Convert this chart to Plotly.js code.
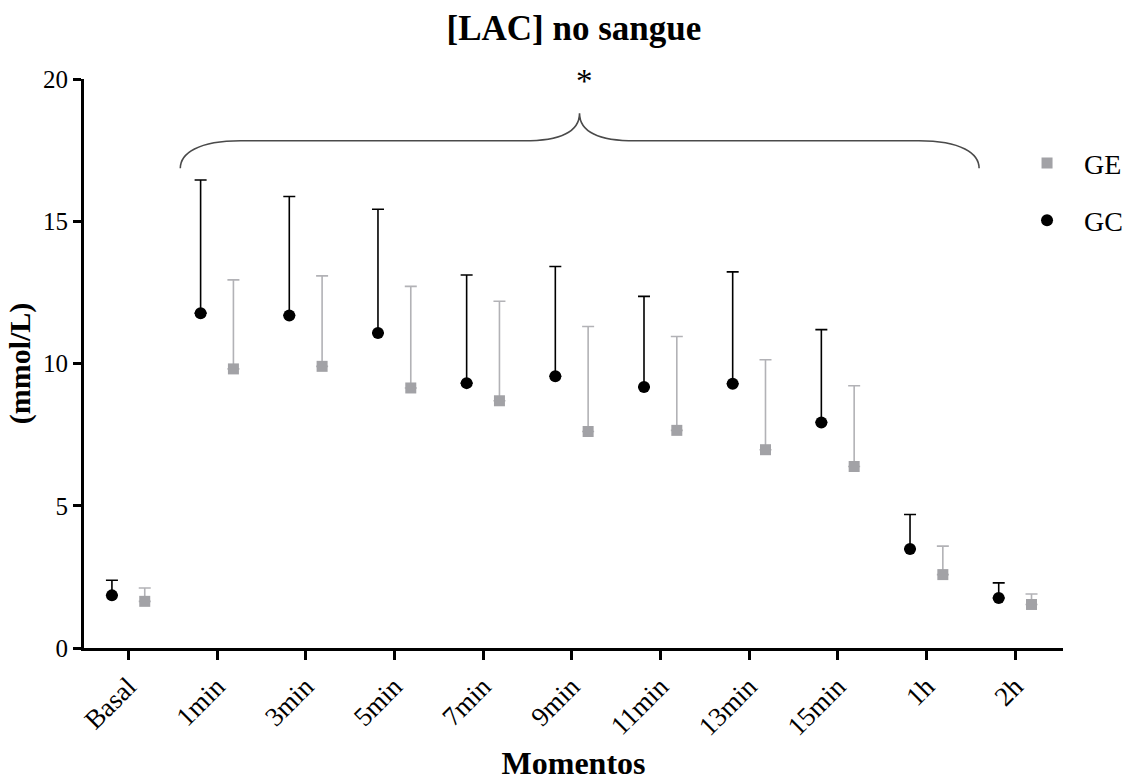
<!DOCTYPE html>
<html>
<head>
<meta charset="utf-8">
<script src="https://cdn.plot.ly/plotly-3.0.1.min.js"></script>
<style>html,body{margin:0;padding:0;background:#fff;}#chart{width:1141px;height:781px;}</style>
</head>
<body>
<div id="chart"></div>
<script>
// Data
var categories = ["Basal", "1min", "3min", "5min", "7min", "9min", "11min", "13min", "15min", "1h", "2h"];
var gcMean = [1.85, 11.77, 11.69, 11.07, 9.31, 9.55, 9.17, 9.29, 7.93, 3.48, 1.76];
var gcUpper = [2.38, 16.45, 15.87, 15.42, 13.11, 13.41, 12.36, 13.22, 11.19, 4.69, 2.29];
var geMean = [1.64, 9.81, 9.90, 9.14, 8.69, 7.61, 7.65, 6.97, 6.38, 2.58, 1.53];
var geUpper = [2.11, 12.94, 13.08, 12.71, 12.19, 11.30, 10.95, 10.13, 9.22, 3.58, 1.90];
var yTicks = [0, 5, 10, 15, 20];

var idx = categories.map(function (c, i) { return i; });
var off = 0.185;
function diff(u, m) { return u.map(function (v, i) { return +(v - m[i]).toFixed(3); }); }

var serif = "'Liberation Serif', 'Times New Roman', serif";

var traceGE = {
  type: "scatter", mode: "markers", name: "GE", legendgroup: "ge",
  x: idx.map(function (i) { return i + off; }), y: geMean,
  marker: { symbol: "square", size: 11, color: "#a2a2a6" },
  error_y: { type: "data", symmetric: false, array: diff(geUpper, geMean), arrayminus: geMean.map(function () { return 0; }),
             color: "#b2b2b6", thickness: 1.6, width: 6 },
  hoverinfo: "y"
};
var traceGC = {
  type: "scatter", mode: "markers", name: "GC", legendgroup: "gc",
  x: idx.map(function (i) { return i - off; }), y: gcMean,
  marker: { symbol: "circle", size: 12, color: "#000000" },
  error_y: { type: "data", symmetric: false, array: diff(gcUpper, gcMean), arrayminus: gcMean.map(function () { return 0; }),
             color: "#000000", thickness: 1.6, width: 6 },
  hoverinfo: "y"
};

// significance brace (annotation decoration)
var bl = 0.586, br = 9.594, bm = 5.088, yf = 17.83, ye = 16.86, yt = 18.80;
var bracePath = "M " + bl + "," + ye +
  " C " + bl + "," + (yf - 0.45) + " " + (bl + 0.2) + "," + yf + " " + (bl + 0.68) + "," + yf +
  " L " + (bm - 0.63) + "," + yf +
  " C " + (bm - 0.2) + "," + yf + " " + bm + "," + (yf + 0.35) + " " + bm + "," + yt +
  " C " + bm + "," + (yf + 0.35) + " " + (bm + 0.2) + "," + yf + " " + (bm + 0.63) + "," + yf +
  " L " + (br - 0.68) + "," + yf +
  " C " + (br - 0.2) + "," + yf + " " + br + "," + (yf - 0.45) + " " + br + "," + ye;

var layout = {
  width: 1141, height: 781,
  paper_bgcolor: "#ffffff", plot_bgcolor: "#ffffff",
  margin: { l: 84, r: 78, t: 79, b: 132.5 },
  font: { family: serif, color: "#000000", size: 25 },
  title: { text: "<b>[LAC] no sangue</b>", font: { family: serif, size: 35, color: "#000" },
           x: 0.503, xanchor: "center", y: 0.965, yref: "container", yanchor: "middle" },
  showlegend: true,
  legend: { x: 0.9459, y: 0.896, xanchor: "left", yanchor: "top", bgcolor: "rgba(0,0,0,0)",
            font: { family: serif, size: 28, color: "#000" }, tracegroupgap: 18, traceorder: "grouped", itemwidth: 64 },
  xaxis: {
    range: [-0.5, 10.54], tickmode: "array", tickvals: idx, ticktext: categories,
    tickangle: -45, showgrid: false, zeroline: false,
    showline: true, linecolor: "#000", linewidth: 3,
    ticks: "outside", ticklen: 9, tickwidth: 3, tickcolor: "#000",
    tickfont: { family: serif, size: 27, color: "#000" },
    title: { text: "<b>Momentos</b>", font: { family: serif, size: 32, color: "#000" }, standoff: 23 }
  },
  yaxis: {
    range: [0, 20], tickmode: "array", tickvals: yTicks, showgrid: false, zeroline: false,
    showline: true, linecolor: "#000", linewidth: 3,
    ticks: "outside", ticklen: 8, tickwidth: 3, tickcolor: "#000",
    tickfont: { family: serif, size: 25, color: "#000" },
    title: { text: "<b>(mmol/L)</b>", font: { family: serif, size: 30, color: "#000" }, standoff: 4 }
  },
  shapes: [{ type: "path", xref: "x", yref: "y", path: bracePath, line: { color: "#4a4a4a", width: 1.6 } }],
  annotations: [{ xref: "x", yref: "y", x: 5.14, y: 19.92, text: "*", showarrow: false,
                  yanchor: "middle", font: { family: serif, size: 33, color: "#000" } }]
};

Plotly.newPlot("chart", [traceGE, traceGC], layout, { displayModeBar: false, staticPlot: true });
</script>
</body>
</html>
